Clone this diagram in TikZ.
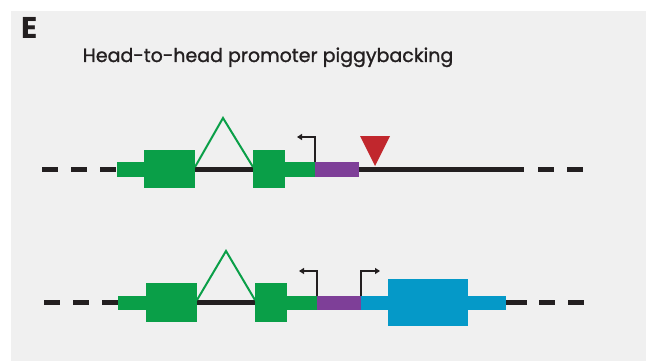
\documentclass[tikz,border=0pt]{standalone}
\usepackage{fontspec}
\setmainfont{Poppins}
\newfontfamily\headfont[FakeBold=1.2]{Poppins}
\usetikzlibrary{arrows.meta}
\definecolor{panelbg}{HTML}{F0F0F0}
\definecolor{exongreen}{HTML}{0A9F48}
\definecolor{promoterpurple}{HTML}{7E3F98}
\definecolor{insertred}{HTML}{C1272D}
\definecolor{exonblue}{HTML}{0599C8}
\definecolor{dnablack}{HTML}{231F20}
\tikzset{
  dna/.style={draw=dnablack, line width=5pt},
  dnadash/.style={dna, dash pattern=on 16pt off 13pt},
  utr/.style={fill=#1, draw=none},
  intronhat/.style={draw=exongreen, line width=2pt, line join=miter},
  tss/.style={draw=dnablack, line width=1.8pt, -{Triangle[length=5pt,width=6pt]}},
}
\begin{document}
\begin{tikzpicture}[x=1pt,y=-1pt]
  % canvas and grey panel
  \fill[white] (0,0) rectangle (646,361);
  \fill[panelbg] (11,11) rectangle (646,361);
  \useasboundingbox (0,0) rectangle (646,361);

  % panel letter and heading
  \node[anchor=north west, inner sep=0pt, text=dnablack, font=\bfseries\fontsize{30}{30}\selectfont] (lbl) at (21,17) {E};
  \node[anchor=base, inner sep=0pt, font=\headfont\fontsize{19}{19}\selectfont, text=dnablack] (title) at (268,62) {Head-to-head promoter piggybacking};

  % ---------- upper locus ----------
  \coordinate (a0) at (42,169);
  \coordinate (a1) at (117,169);
  \draw[dnadash] (a0) -- (a1);
  \draw[dna] (195,169) -- (253,169);
  \draw[dna] (359,169) -- (524,169);
  \coordinate (a2) at (538,169);
  \coordinate (a3) at (584,169);
  \draw[dnadash] (a2) -- (a3);
  % green exons with UTRs
  \fill[utr=exongreen] (117,162) rectangle (144,177);
  \fill[utr=exongreen] (144,150) rectangle (195,188);
  \fill[utr=exongreen] (253,150) rectangle (285,188);
  \fill[utr=exongreen] (285,162) rectangle (315,177);
  % splice
  \coordinate (ai1) at (195,167);
  \coordinate (aapex) at (223,118);
  \coordinate (ai2) at (253,167);
  \draw[intronhat] (ai1) -- (aapex) -- (ai2);
  % promoter
  \fill[utr=promoterpurple] (315,162) rectangle (359,177);
  % leftward TSS
  \coordinate (atss) at (315,162);
  \coordinate (atssend) at (297,137);
  \draw[tss] (atss) |- (atssend);
  % insertion marker
  \fill[insertred] (360,136) -- (390,136) -- (375,166) -- cycle;

  % ---------- lower locus ----------
  \coordinate (b0) at (44,302);
  \coordinate (b1) at (118,302);
  \draw[dnadash] (b0) -- (b1);
  \draw[dna] (197,302) -- (255,302);
  \draw[dna] (506,302) -- (527,302);
  \coordinate (b2) at (539,302);
  \coordinate (b3) at (585,302);
  \draw[dnadash] (b2) -- (b3);
  \fill[utr=exongreen] (118,296) rectangle (146,310);
  \fill[utr=exongreen] (146,283) rectangle (197,322);
  \fill[utr=exongreen] (255,283) rectangle (287,322);
  \fill[utr=exongreen] (287,296) rectangle (317,310);
  \coordinate (bi1) at (197,300);
  \coordinate (bapex) at (226,251);
  \coordinate (bi2) at (255,300);
  \draw[intronhat] (bi1) -- (bapex) -- (bi2);
  \fill[utr=promoterpurple] (317,296) rectangle (361,310);
  % blue gene driven from the shared promoter
  \fill[utr=exonblue] (361,296) rectangle (388,310);
  \fill[utr=exonblue] (388,279) rectangle (468,326);
  \fill[utr=exonblue] (468,296) rectangle (506,310);
  % divergent TSS arrows
  \coordinate (btssl) at (317,296);
  \coordinate (btsslend) at (299,271);
  \draw[tss] (btssl) |- (btsslend);
  \coordinate (btssr) at (361,296);
  \coordinate (btssrend) at (380,271);
  \draw[tss] (btssr) |- (btssrend);
\end{tikzpicture}
\end{document}
